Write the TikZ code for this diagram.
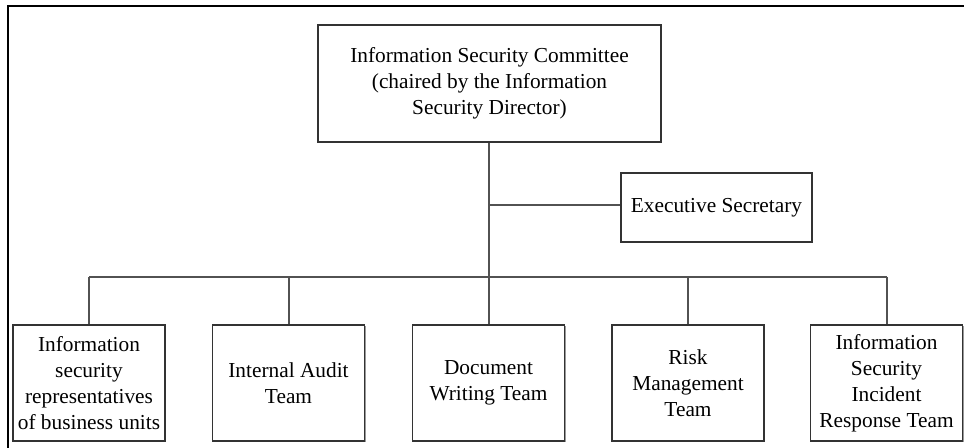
\documentclass[tikz,border=0pt]{standalone}
\usepackage{fontspec}
\setmainfont{Liberation Serif}
\usetikzlibrary{shadows}
\begin{document}
\begin{tikzpicture}[x=0.75pt,y=-0.75pt,
  box/.style={draw=black!80, line width=1.35pt, fill=white, align=center, inner sep=0pt,
    font=\fontsize{16}{19.6}\selectfont,
    drop shadow={shadow xshift=1pt, shadow yshift=-1pt, fill=black!40, opacity=1}},
  team/.style={box, minimum width=114pt, minimum height=87pt},
  link/.style={draw=black!68, line width=1.5pt},
  frame/.style={draw=black, line width=1.6pt}]
\useasboundingbox (0,0) rectangle (964,448);
\coordinate (fb) at (8,448);
\coordinate (fc) at (8,6);
\coordinate (fr) at (964,6);
\draw[frame] (fb) -- (fc) -- (fr);

\node[box, minimum width=257pt, minimum height=88pt] (isc) at (489.5,83.5)
  {Information Security Committee\\(chaired by the Information\\Security Director)};
\node[box, minimum width=143pt, minimum height=52pt] (sec) at (716.5,207.5)
  {Executive Secretary};

\node[team] (t1) at (89,383) {Information\\security\\representatives\\of business units};
\node[team] (t2) at (288.5,383) {Internal Audit\\Team};
\node[team] (t3) at (488.5,383) {Document\\Writing Team};
\node[team] (t4) at (688,383) {Risk\\Management\\Team};
\node[team] (t5) at (886.5,383) {Information\\Security\\Incident\\Response Team};

\coordinate (bus) at (488.5,277);
\coordinate (br) at (488.5,205);
\draw[link] (isc.south -| t3.north) -- (t3.north);
\draw[link] (br) -- (br -| sec.west);
\draw[link] (bus -| t1.north) -- (bus -| t5.north);
\foreach \t in {t1,t2,t4,t5}{
  \draw[link] (bus -| \t.north) -- (\t.north);
}
\end{tikzpicture}
\end{document}
